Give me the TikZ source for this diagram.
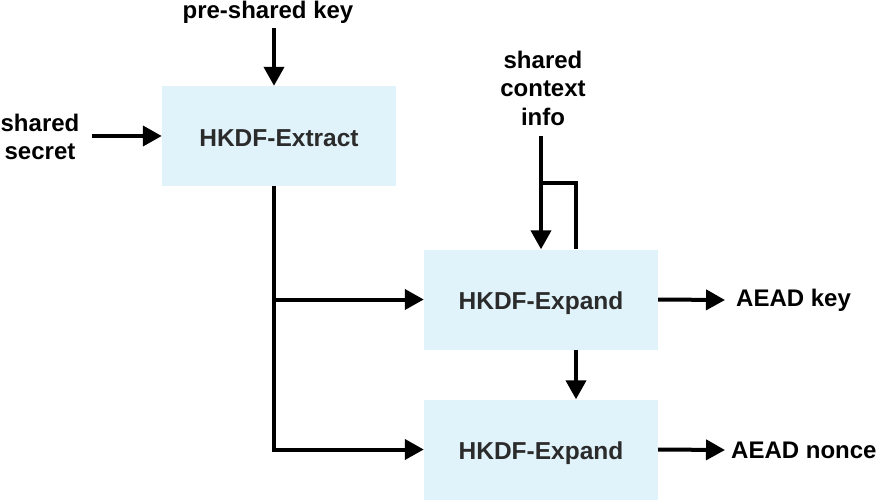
\documentclass[tikz,border=0pt]{standalone}
\usepackage{fontspec}
\setmainfont{Liberation Sans}
\usetikzlibrary{arrows.meta}
\definecolor{boxblue}{HTML}{E0F3FA}
\definecolor{boxtext}{HTML}{2B2B2B}
\begin{document}
\begin{tikzpicture}[x=1pt,y=-1pt,
  box/.style={fill=boxblue, draw=none, minimum width=234pt, minimum height=100pt, inner sep=0pt, text height=20.5pt, text depth=0pt, font=\fontsize{24.5}{28}\selectfont\bfseries, text=boxtext},
  lbl/.style={font=\fontsize{24}{28.5}\selectfont\bfseries, align=center, inner sep=0pt},
  conn/.style={line width=4pt, -{Triangle[length=19pt,width=20pt]}},
  plain/.style={line width=4pt}]
\useasboundingbox (0,0) rectangle (876,500);
\node[box] (ext) at (279,136) {HKDF-Extract};
\node[box] (exp1) at (541,299.5) {HKDF-Expand};
\node[box] (exp2) at (541,449.5) {HKDF-Expand};
\node[lbl] (psk) at (268,12) {pre-shared key};
\node[lbl] (ss) at (40,137) {shared\\secret};
\node[lbl] (ctx) at (543,88) {shared\\context\\info};
\node[lbl, anchor=west] (key) at (736,300) {AEAD key};
\node[lbl, anchor=west] (nonce) at (731,450) {AEAD nonce};
\coordinate (pska) at (274,28);
\coordinate (ssa) at (92,136);
\coordinate (ctxa) at (541,136);
\coordinate (ctxb) at (541,183);
\draw[conn] (pska) -- (pska |- ext.north);
\draw[conn] (ssa) -- (ext.west);
\draw[conn] ([xshift=-5pt]ext.south) |- (exp1.west);
\draw[conn] ([xshift=-5pt]ext.south) |- (exp2.west);
\draw[conn] (ctxa) -- (exp1.north);
\draw[plain] (ctxb) -| ([xshift=35pt]exp1.north);
\draw[conn] ([xshift=35pt]exp1.south) -- ([xshift=35pt]exp2.north);
\draw[conn] (exp1.east) -- ([xshift=-11pt]key.west);
\draw[conn] (exp2.east) -- ([xshift=-6pt]nonce.west);
\end{tikzpicture}
\end{document}
